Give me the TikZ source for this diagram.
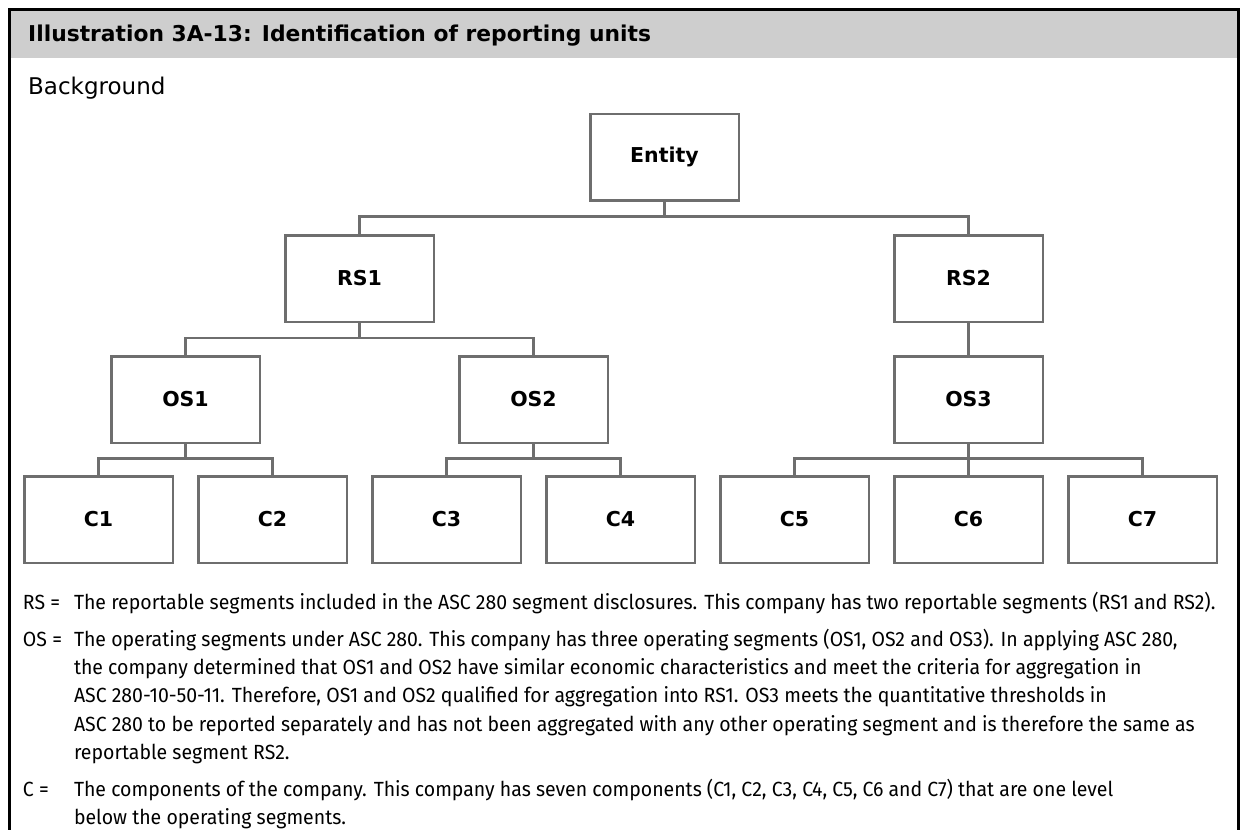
\documentclass[tikz,border=0pt]{standalone}
\usepackage{fontspec}
\setmainfont{Fira Sans}
\newfontfamily\dejafam{DejaVu Sans}
\newfontfamily\notefam[FakeStretch=0.95]{Fira Sans}
\newcommand\titlefont{\dejafam\bfseries\fontsize{21.8}{24}\selectfont}
\newcommand\bgfont{\dejafam\fontsize{23}{25}\selectfont}
\newcommand\labelfont{\dejafam\bfseries\fontsize{20.5}{23}\selectfont}
\newcommand\notefont{\notefam\fontsize{20.5}{23}\selectfont}
\definecolor{boxgray}{HTML}{6E6E6E}
\definecolor{headgray}{HTML}{CECECE}
\begin{document}
\begin{tikzpicture}[x=1pt,y=-1pt,
  box/.style={draw=boxgray, line width=2.5pt, minimum width=148.5pt, minimum height=86.5pt,
    inner sep=0pt, outer sep=0pt, font=\labelfont, fill=white},
  conn/.style={draw=boxgray, line width=2.5pt, line join=miter},
  note/.style={anchor=base west, inner sep=0pt, outer sep=0pt, font=\notefont},
  frameline/.style={draw=black, line width=3pt}]
\useasboundingbox (0,0) rectangle (1243,830);
\fill[white] (0,0) rectangle (1243,830);
% header band and frame
\fill[headgray] (10,10) rectangle (1237,57.5);
\draw[frameline] (9.5,830) -- (9.5,9.5) -- (1238,9.5) -- (1238,830);
\node[anchor=base west, inner sep=0pt, font=\titlefont] (title) at (28,41)
  {Illustration 3A-13: Identification of reporting units};
\node[anchor=base west, inner sep=0pt, font=\bgfont] (bg) at (28,94) {Background};
% boxes
\node[box] (E) at (664.5,157) {Entity};
\node[box] (RS1) at (359.5,278.5) {RS1};
\node[box] (RS2) at (968.5,278.5) {RS2};
\node[box] (OS1) at (185.5,399.5) {OS1};
\node[box] (OS2) at (533.5,399.5) {OS2};
\node[box] (OS3) at (968.5,399.5) {OS3};
\node[box] (C1) at (98.5,519.5) {C1};
\node[box] (C2) at (272.5,519.5) {C2};
\node[box] (C3) at (446.5,519.5) {C3};
\node[box] (C4) at (620.5,519.5) {C4};
\node[box] (C5) at (794.5,519.5) {C5};
\node[box] (C6) at (968.5,519.5) {C6};
\node[box] (C7) at (1142.5,519.5) {C7};
% connectors
\draw[conn] (E.south) -- ++(0,16) -| (RS1.north);
\draw[conn] (E.south) -- ++(0,16) -| (RS2.north);
\draw[conn] (RS1.south) -- ++(0,16) -| (OS1.north);
\draw[conn] (RS1.south) -- ++(0,16) -| (OS2.north);
\draw[conn] (RS2.south) -- (OS3.north);
\draw[conn] (OS1.south) -- ++(0,15.5) -| (C1.north);
\draw[conn] (OS1.south) -- ++(0,15.5) -| (C2.north);
\draw[conn] (OS2.south) -- ++(0,15.5) -| (C3.north);
\draw[conn] (OS2.south) -- ++(0,15.5) -| (C4.north);
\draw[conn] (OS3.south) -- ++(0,15.5) -| (C5.north);
\draw[conn] (OS3.south) -- (C6.north);
\draw[conn] (OS3.south) -- ++(0,15.5) -| (C7.north);
% notes
\node[note] (k1) at (23,609) {RS =};
\node[note] (t1) at (74,609) {The reportable segments included in the ASC 280 segment disclosures. This company has two reportable segments (RS1 and RS2).};
\node[note] (k2) at (23,646) {OS =};
\node[note] (t2) at (74,646) {The operating segments under ASC 280. This company has three operating segments (OS1, OS2 and OS3). In applying ASC 280,};
\node[note] (t3) at (74,674) {the company determined that OS1 and OS2 have similar economic characteristics and meet the criteria for aggregation in};
\node[note] (t4) at (74,702) {ASC 280-10-50-11. Therefore, OS1 and OS2 qualified for aggregation into RS1. OS3 meets the quantitative thresholds in};
\node[note] (t5) at (74,731) {ASC 280 to be reported separately and has not been aggregated with any other operating segment and is therefore the same as};
\node[note] (t6) at (74,759) {reportable segment RS2.};
\node[note] (k3) at (23,796) {C =};
\node[note] (t7) at (74,796) {The components of the company. This company has seven components (C1, C2, C3, C4, C5, C6 and C7) that are one level};
\node[note] (t8) at (74,824) {below the operating segments.};
\end{tikzpicture}
\end{document}
